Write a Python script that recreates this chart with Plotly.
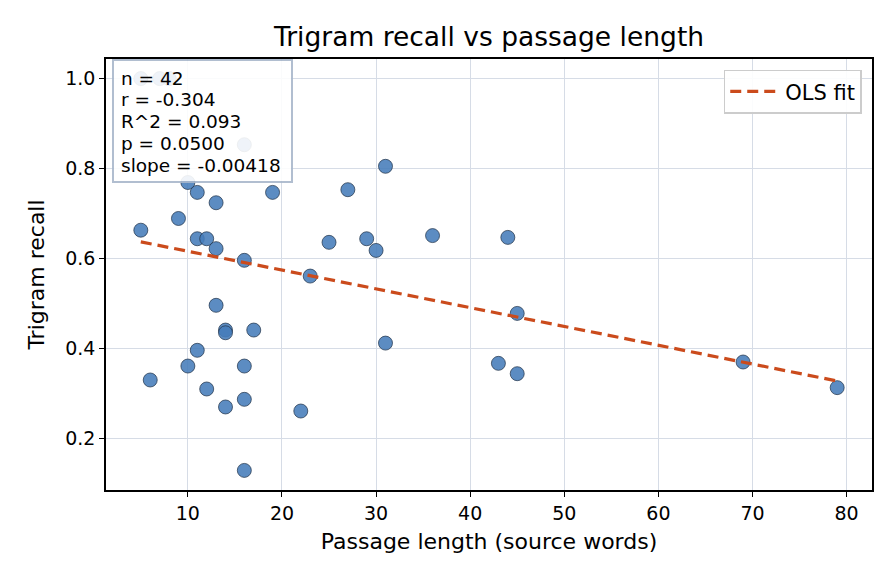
import plotly.graph_objects as go

# ---- data ----
passage_len = [5, 6, 9, 10, 10, 11, 11, 11, 12, 12, 13, 13, 13, 14, 14, 14,
               16, 16, 16, 16, 17, 19, 22, 31, 27, 25, 29, 30, 36, 44, 23, 45,
               31, 43, 45, 69, 79, 16, 5, 7, 8, 8]
trigram_recall = [0.663, 0.330, 0.689, 0.769, 0.361, 0.747, 0.644, 0.396, 0.644, 0.310,
                  0.724, 0.622, 0.496, 0.441, 0.435, 0.270, 0.596, 0.361, 0.287, 0.129,
                  0.441, 0.747, 0.261, 0.805, 0.753, 0.636, 0.644, 0.618, 0.651, 0.647,
                  0.561, 0.478, 0.412, 0.367, 0.344, 0.370, 0.313, 0.853, 1.0, 1.0, 1.0, 1.0]

fit_slope = -0.00418
fit_intercept = 0.658

stats_lines = ["n = 42", "r = -0.304", "R^2 = 0.093", "p = 0.0500", "slope = -0.00418"]

x_ticks = [10, 20, 30, 40, 50, 60, 70, 80]
y_ticks = [0.2, 0.4, 0.6, 0.8, 1.0]

FONT = "DejaVu Sans"

xmin, xmax = min(passage_len), max(passage_len)
fit_x = [xmin, xmax]
fit_y = [fit_intercept + fit_slope * v for v in fit_x]

fig = go.Figure()
fig.add_trace(go.Scatter(
    x=passage_len, y=trigram_recall, mode="markers", showlegend=False,
    marker=dict(size=14, color="rgba(70,124,186,0.88)",
                line=dict(color="#1e2f45", width=0.7)),
))
fig.add_trace(go.Scatter(
    x=fit_x, y=fit_y, mode="lines", name="OLS fit",
    line=dict(color="#cb4b1c", width=3.2, dash="11px,6px"),
))

xr = xmax - xmin
ymin, ymax = min(trigram_recall), max(trigram_recall)
yr = ymax - ymin

axis_common = dict(
    showline=True, linecolor="black", linewidth=1.6, mirror=True,
    ticks="outside", ticklen=5, tickwidth=1.2, tickcolor="black",
    showgrid=True, gridcolor="#d6dce6", gridwidth=1.2, zeroline=False,
    tickfont=dict(family=FONT, size=19, color="black"),
)

ML, MR, MT, MB = 106, 24, 59, 94

fig.update_layout(
    width=896, height=584,
    margin=dict(l=ML, r=MR, t=MT, b=MB),
    paper_bgcolor="white", plot_bgcolor="white",
    font=dict(family=FONT, color="black"),
    title=dict(text="Trigram recall vs passage length",
               font=dict(family=FONT, size=26.5, color="black"),
               x=0.5, xref="paper", xanchor="center",
               y=1 - 37 / 584, yref="container", yanchor="middle"),
    xaxis=dict(range=[xmin - 0.05 * xr, xmax + 0.05 * xr], tickvals=x_ticks,
               title=dict(text="Passage length (source words)",
                          font=dict(family=FONT, size=22), standoff=11),
               **axis_common),
    yaxis=dict(range=[ymin - 0.05 * yr, ymax + 0.05 * yr], tickvals=y_ticks,
               tickformat=".1f",
               title=dict(text="Trigram recall",
                          font=dict(family=FONT, size=22), standoff=14),
               **axis_common),
    legend=dict(x=0.9866, y=0.975, xanchor="right", yanchor="top",
                itemwidth=50,
                bgcolor="rgba(255,255,255,0.9)", bordercolor="#cccccc",
                borderwidth=1.5, font=dict(family=FONT, size=21, color="black")),
)

# stats box (annotations are drawn above the data)
plot_w = 896 - ML - MR
plot_h = 584 - MT - MB
bottom_px = 584 - MB
box_left, box_right, box_top, box_bottom = 112, 293, 59, 183
fig.add_annotation(text=" ", xref="paper", yref="paper",
                   x=(box_left - ML) / plot_w, xanchor="left",
                   y=(bottom_px - box_top) / plot_h, yanchor="top",
                   width=box_right - box_left - 4, height=box_bottom - box_top - 4,
                   borderpad=0, borderwidth=2, bordercolor="#a9b8cc",
                   bgcolor="white", opacity=0.9, showarrow=False)
line_step = 21.8
for i, txt in enumerate(stats_lines):
    ypx = 78 + i * line_step
    fig.add_annotation(text=txt, xref="paper", yref="paper",
                       x=(119 - ML) / plot_w, xanchor="left",
                       y=(bottom_px - ypx) / plot_h, yanchor="middle",
                       showarrow=False, align="left",
                       font=dict(family=FONT, size=18.5, color="black"))

fig.write_html("out.html")
